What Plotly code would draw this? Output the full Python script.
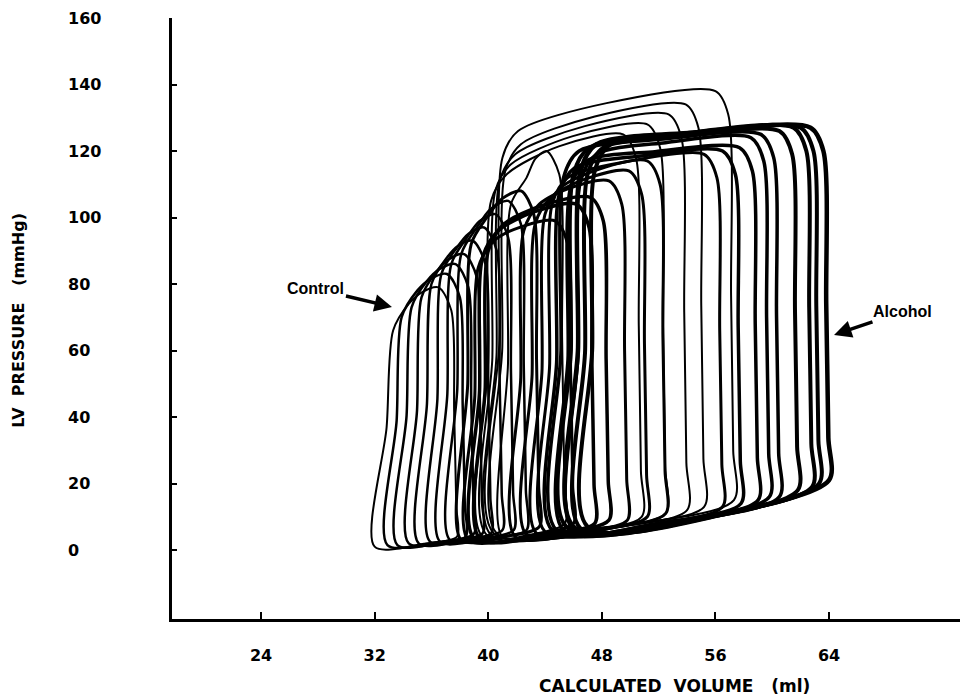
import plotly.graph_objects as go

# ---- data (volumes in ml, pressures in mmHg) ----
loop_esv  = [33.3, 33.9, 34.6, 35.3, 36.0, 36.7, 37.4, 38.1, 38.8,
             39.3, 39.6, 40.0, 41.6, 42.5, 43.3, 44.0,
             40.2, 40.5, 40.8, 41.2, 41.0,
             44.5, 45.0, 45.8, 46.5, 45.3, 47.0, 46.0, 47.5, 46.5]
loop_edv  = [37.8, 38.4, 39.0, 39.6, 40.2, 41.0, 41.8, 42.7, 43.6,
             46.0, 47.5, 48.5, 45.4, 49.8, 51.2, 52.5,
             50.8, 52.5, 54.0, 55.2, 57.3,
             56.5, 57.8, 59.0, 59.8, 60.5, 61.8, 62.8, 63.3, 64.0]
loop_pes  = [74, 78, 81, 84, 88, 91, 94, 97, 100,
             93, 96, 98, 112, 104, 106, 109,
             113, 116, 119, 122, 126,
             112, 115, 117, 119, 120, 121, 121, 122, 122]
loop_ptop = [79, 83, 86, 89, 93, 97, 101, 105, 108,
             99, 104, 106, 120, 111, 114, 117,
             125, 128, 131, 134, 138,
             119, 120, 121, 124, 125, 126, 127, 127, 127]
loop_edp  = [4, 4, 5, 5, 5, 6, 6, 6, 7,
             8, 8, 9, 8, 9, 10, 11,
             10, 11, 12, 13, 15,
             13, 14, 15, 16, 16, 18, 19, 20, 21]
loop_pmin = [1.0, 1.5, 1.5, 2.0, 2.0, 2.5, 2.5, 3.0, 3.0,
             3.0, 3.5, 3.5, 4.0, 4.0, 4.5, 5.0,
             4.0, 4.5, 4.5, 5.0, 5.0,
             5.5, 6.0, 6.0, 6.0, 6.0, 6.5, 7.0, 7.0, 7.0]
loop_lean = [1.3, 1.0, 1.0, 0.9, 0.9, 0.8, 0.8, 0.8, 0.7,
             0.7, 0.6, 0.6, 0.6, 0.6, 0.6, 0.6,
             0.6, 0.6, 0.6, 0.6, 0.6,
             0.5, 0.5, 0.5, 0.5, 0.5, 0.5, 0.5, 0.5, 0.5]
loop_width = [2, 2.5, 2.5, 2.5, 2.5, 2.5, 2.5, 2.5, 3,
              3, 3.5, 3.5, 2, 3, 3, 3,
              2, 2, 2, 2, 2,
              3, 3.5, 3.5, 3.5, 3.5, 4, 4, 4, 4.5]

x_ticks = [24, 32, 40, 48, 56, 64]
y_ticks = [0, 20, 40, 60, 80, 100, 120, 140, 160]

FONT = "DejaVu Sans"

fig = go.Figure()

for esv, edv, pes, ptop, edp, pmin, lean, w in zip(
        loop_esv, loop_edv, loop_pes, loop_ptop, loop_edp, loop_pmin,
        loop_lean, loop_width):
    span = edv - esv + lean
    xs = [esv - lean,
          esv - lean + 0.6 * span,
          edv,
          edv - 0.05,
          edv - 0.2,
          edv - 0.4,
          edv - 1.3,
          esv + 0.45 * (edv - esv),
          esv + 1.1,
          esv,
          esv - 0.35 * lean,
          esv - lean]
    ys = [pmin,
          pmin + 0.3 * (edp - pmin),
          edp,
          edp + 0.12 * (ptop - edp),
          edp + 0.5 * (ptop - edp),
          ptop - 7,
          ptop,
          pes + 0.7 * (ptop - pes),
          pes,
          pes - 8,
          0.5 * pes,
          pmin]
    fig.add_trace(go.Scatter(x=xs, y=ys, mode="lines",
                             line=dict(color="black", width=w,
                                       shape="spline", smoothing=0.8),
                             hoverinfo="skip", showlegend=False))

fig.update_layout(
    width=960, height=697,
    margin=dict(l=172, r=0, t=18, b=78),
    paper_bgcolor="white", plot_bgcolor="white",
    showlegend=False,
    font=dict(family=FONT, color="black"),
)

fig.update_xaxes(range=[17.73, 73.22], showgrid=False, zeroline=False,
                 showline=True, linecolor="black", linewidth=2.5,
                 ticks="inside", ticklen=7, tickwidth=2, tickcolor="black",
                 tickvals=x_ticks, ticktext=[str(v) for v in x_ticks],
                 tickfont=dict(family=FONT, size=16, color="black", weight="bold"),
                 ticklabelstandoff=20)
fig.update_yaxes(range=[-20.75, 160], showgrid=False, zeroline=False,
                 showline=True, linecolor="black", linewidth=2.5,
                 ticks="inside", ticklen=5, tickwidth=2, tickcolor="black",
                 tickvals=y_ticks, showticklabels=False)

ann = []
for v in y_ticks:
    ann.append(dict(x=0, xref="paper", y=v, yref="y", text="<b>%d</b>" % v,
                    showarrow=False, xanchor="left", yanchor="middle",
                    xshift=-106, font=dict(family=FONT, size=16, color="black")))

ann.append(dict(x=0.638, xref="paper", y=-0.111, yref="paper",
                text="<b>CALCULATED\u00a0\u00a0VOLUME\u00a0\u00a0\u00a0(ml)</b>",
                showarrow=False, xanchor="center", yanchor="middle",
                font=dict(family=FONT, size=17, color="black")))
ann.append(dict(x=-0.195, xref="paper", y=0.497, yref="paper",
                text="<b>LV\u00a0\u00a0PRESSURE\u00a0\u00a0\u00a0(mmHg)</b>",
                textangle=-90, showarrow=False, xanchor="center", yanchor="middle",
                font=dict(family=FONT, size=16, color="black")))

ann.append(dict(x=33.22, y=73.1, xref="x", yref="y", text="<b>Control</b>",
                showarrow=True, arrowhead=2, arrowsize=1, arrowwidth=3.5,
                arrowcolor="black", ax=-76, ay=-18,
                font=dict(family="Liberation Sans", size=16, color="black")))
ann.append(dict(x=64.35, y=64.7, xref="x", yref="y", text="<b>Alcohol</b>",
                showarrow=True, arrowhead=2, arrowsize=1, arrowwidth=3.5,
                arrowcolor="black", ax=68, ay=-23,
                font=dict(family="Liberation Sans", size=16, color="black")))

fig.update_layout(annotations=ann)

fig.write_html("out.html",
               config={"displayModeBar": False},
               post_script="document.body.style.margin='0';"
                           "document.body.style.overflow='hidden';")
